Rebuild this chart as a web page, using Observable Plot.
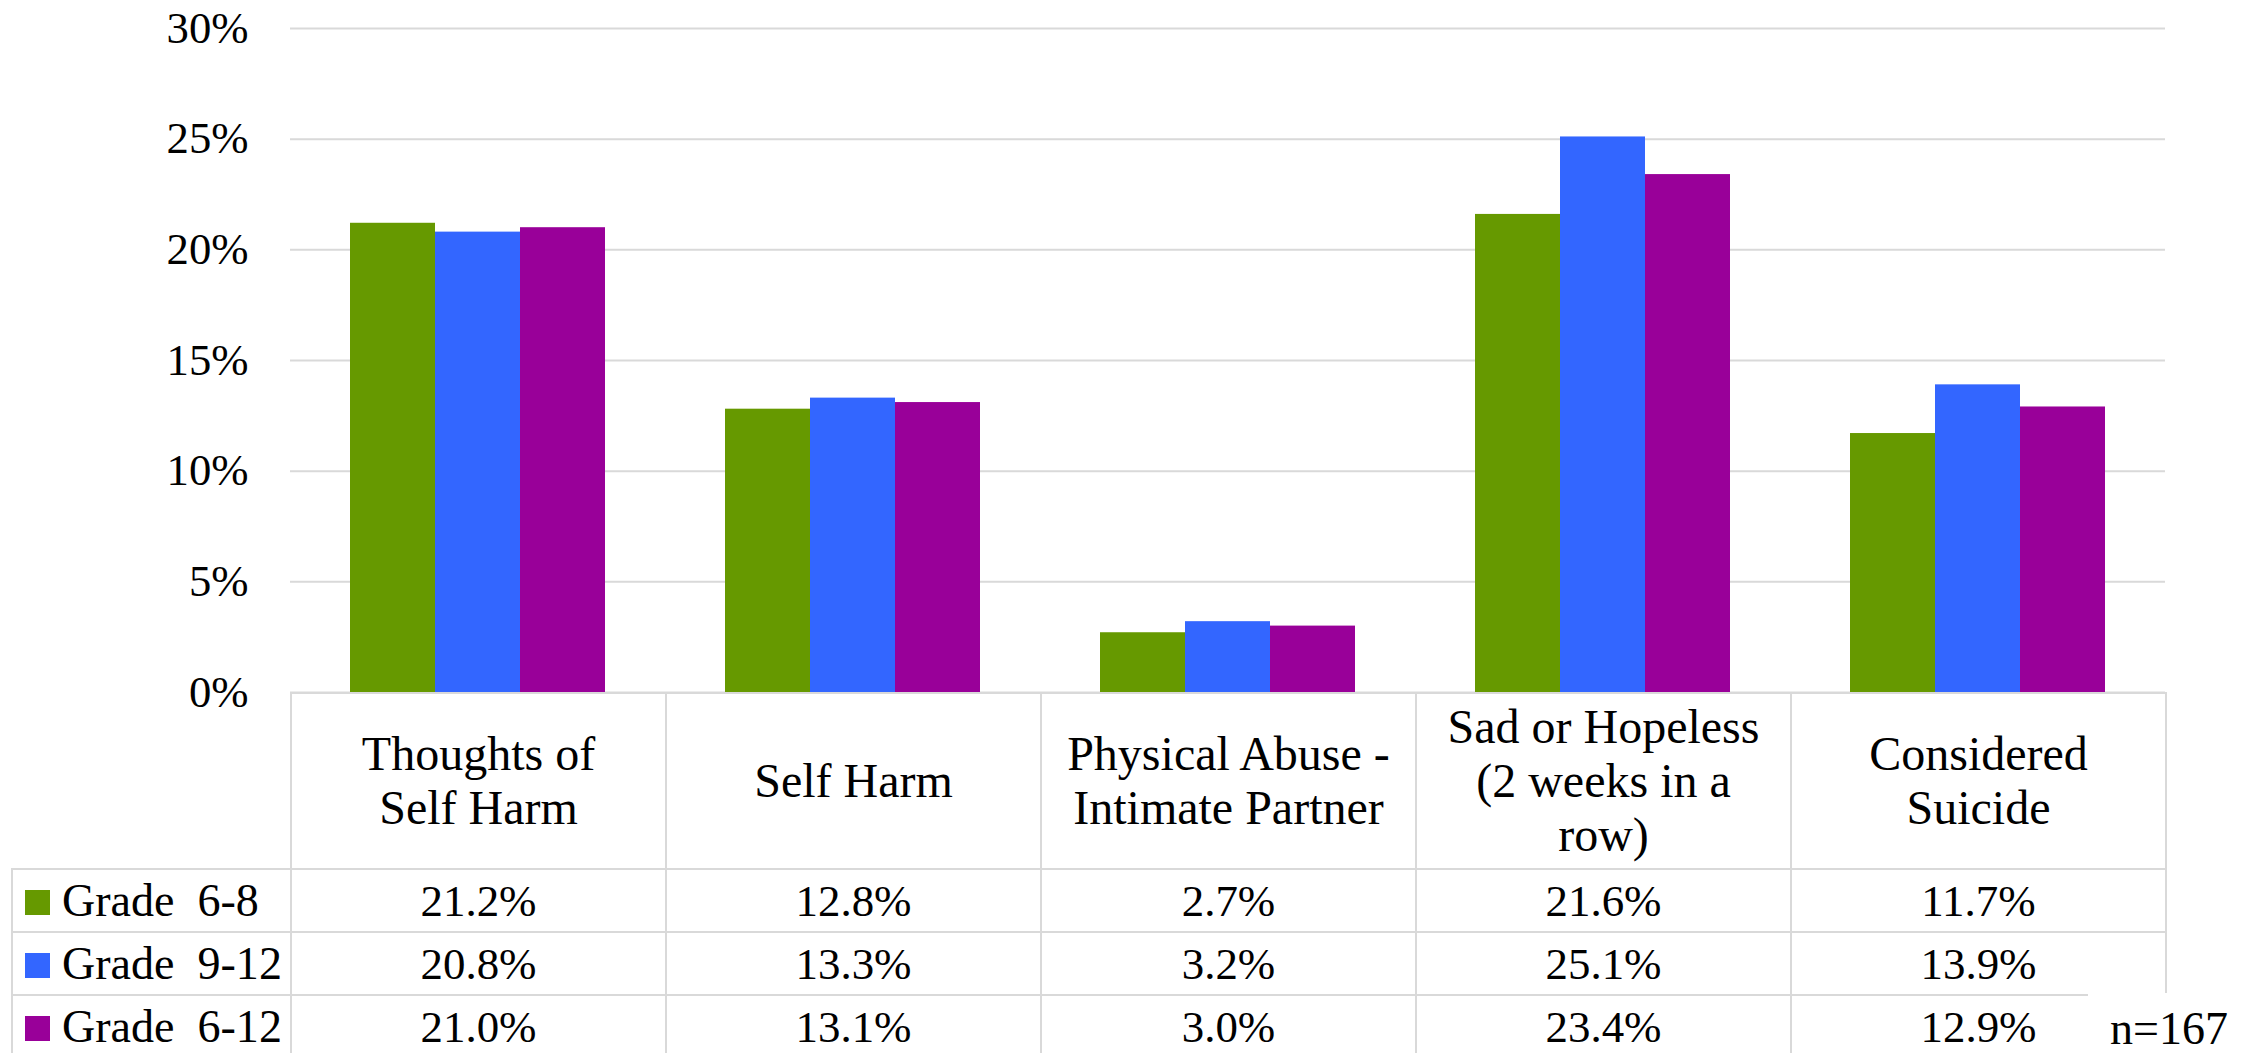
<!DOCTYPE html>
<html>
<head>
<meta charset="utf-8">
<script src="https://cdn.jsdelivr.net/npm/d3@7"></script>
<script src="https://cdn.jsdelivr.net/npm/@observablehq/plot@0.6"></script>
<style>
html, body { margin: 0; padding: 0; background: #fff; }
#wrap { position: relative; width: 2262px; height: 1053px; overflow: hidden; background: #fff; color: #000; }
#chart { position: absolute; left: 0; top: 0; }
#tbl { position: absolute; left: 11px; top: 692px; border-collapse: collapse; table-layout: fixed; }
#tbl td { border: 2px solid #d9d9d9; padding: 0; text-align: center; vertical-align: middle; }
#tbl td.corner { border-top: none; border-left: none; }
#tbl td.cat { line-height: 54px; white-space: pre-line; }
#tbl td.leg { text-align: left; white-space: pre; }
#tbl .sw { display: inline-block; width: 25px; height: 25px; margin-left: 12px; margin-right: 12px; vertical-align: middle; position: relative; top: -3px; }
#note { position: absolute; left: 2088px; top: 993px; }
</style>
</head>
<body>
<div id="wrap"><div id="chart"></div></div>
<script>
const categories = ["Thoughts of\nSelf Harm", "Self Harm", "Physical Abuse -\nIntimate Partner", "Sad or Hopeless\n(2 weeks in a\nrow)", "Considered\nSuicide"];
const grades = ["Grade  6-8", "Grade  9-12", "Grade  6-12"];
const grade6to8 = [21.2, 12.8, 2.7, 21.6, 11.7];
const grade9to12 = [20.8, 13.3, 3.2, 25.1, 13.9];
const grade6to12 = [21.0, 13.1, 3.0, 23.4, 12.9];
const yTicks = [0, 5, 10, 15, 20, 25, 30];
const gradeColors = ["#669900", "#3366FF", "#990099"];
const sampleNote = "n=167";

const series = [grade6to8, grade9to12, grade6to12];
const data = categories.flatMap((c, i) => grades.map((g, j) => ({category: c, grade: g, value: series[j][i]})));

// pick an installed serif font, and size each text class to the reference text widths
const cvs = document.createElement("canvas").getContext("2d");
function widthOf(str, family, size) { cvs.font = `${size}px ${family}`; return cvs.measureText(str).width; }
function installed(name) {
  const probe = "mmmmmmmmmmlliWWQ0123456789";
  return ["monospace", "sans-serif", "serif"].some(fb => widthOf(probe, `"${name}", ${fb}`, 100) !== widthOf(probe, fb, 100));
}
const candidates = ["Liberation Serif", "Tinos", "Times New Roman", "Times", "Noto Serif", "DejaVu Serif", "Liberation Sans"];
const fam = candidates.find(installed) || "serif";
const family = `"${fam}", serif`;
function sizeFor(str, target, max) { return Math.min(max, 100 * target / widthOf(str, family, 100)); }
const tickSize = sizeFor("30%", 82, 46);
const catSize = sizeFor("Thoughts of", 235, 48);
const valSize = sizeFor("21.2%", 116, 46);
const legSize = sizeFor("Grade  9-12", 220, 47);
const noteSize = sizeFor("n=167", 120, 46);

document.getElementById("wrap").style.fontFamily = family;

const chart = Plot.plot({
  width: 2262,
  height: 720,
  marginTop: 28,
  marginBottom: 28,
  marginLeft: 290,
  marginRight: 97,
  style: {fontFamily: family, fontSize: tickSize + "px", color: "#000", background: "transparent", overflow: "visible"},
  fx: {domain: categories, padding: 0, axis: null},
  x: {domain: grades, paddingInner: 0, paddingOuter: 0.693, axis: null},
  y: {domain: [0, 30], ticks: yTicks, tickSize: 0, tickPadding: 42, tickFormat: d => d + "%", label: null},
  color: {domain: grades, range: gradeColors},
  marks: [
    Plot.ruleY(yTicks, {stroke: "#d9d9d9", strokeWidth: 2}),
    Plot.barY(data, {fx: "category", x: "grade", y: "value", fill: "grade"})
  ]
});
document.getElementById("chart").appendChild(chart);

// data table below the chart
const wrap = document.getElementById("wrap");
const table = document.createElement("table");
table.id = "tbl";
const colgroup = document.createElement("colgroup");
[279, ...categories.map(() => 375)].forEach(w => {
  const col = document.createElement("col");
  col.style.width = w + "px";
  colgroup.appendChild(col);
});
table.appendChild(colgroup);

const head = document.createElement("tr");
head.style.height = "176px";
const corner = document.createElement("td");
corner.className = "corner";
head.appendChild(corner);
categories.forEach(c => {
  const td = document.createElement("td");
  td.className = "cat";
  td.style.fontSize = catSize + "px";
  td.textContent = c;
  head.appendChild(td);
});
table.appendChild(head);

grades.forEach((g, j) => {
  const tr = document.createElement("tr");
  tr.style.height = "63px";
  const leg = document.createElement("td");
  leg.className = "leg";
  leg.style.fontSize = legSize + "px";
  const sw = document.createElement("span");
  sw.className = "sw";
  sw.style.background = gradeColors[j];
  leg.appendChild(sw);
  leg.appendChild(document.createTextNode(g));
  tr.appendChild(leg);
  series[j].forEach(v => {
    const td = document.createElement("td");
    td.className = "val";
    td.style.fontSize = valSize + "px";
    td.textContent = v.toFixed(1) + "%";
    tr.appendChild(td);
  });
  table.appendChild(tr);
});
wrap.appendChild(table);

// sample size note on a white patch over the table corner
const note = d3.create("svg").attr("id", "note").attr("width", 174).attr("height", 60);
note.append("rect").attr("width", 174).attr("height", 60).attr("fill", "#fff");
note.append("text").attr("x", 22).attr("y", 51).attr("font-family", family)
  .attr("font-size", noteSize).attr("fill", "#000").text(sampleNote);
wrap.appendChild(note.node());
</script>
</body>
</html>
